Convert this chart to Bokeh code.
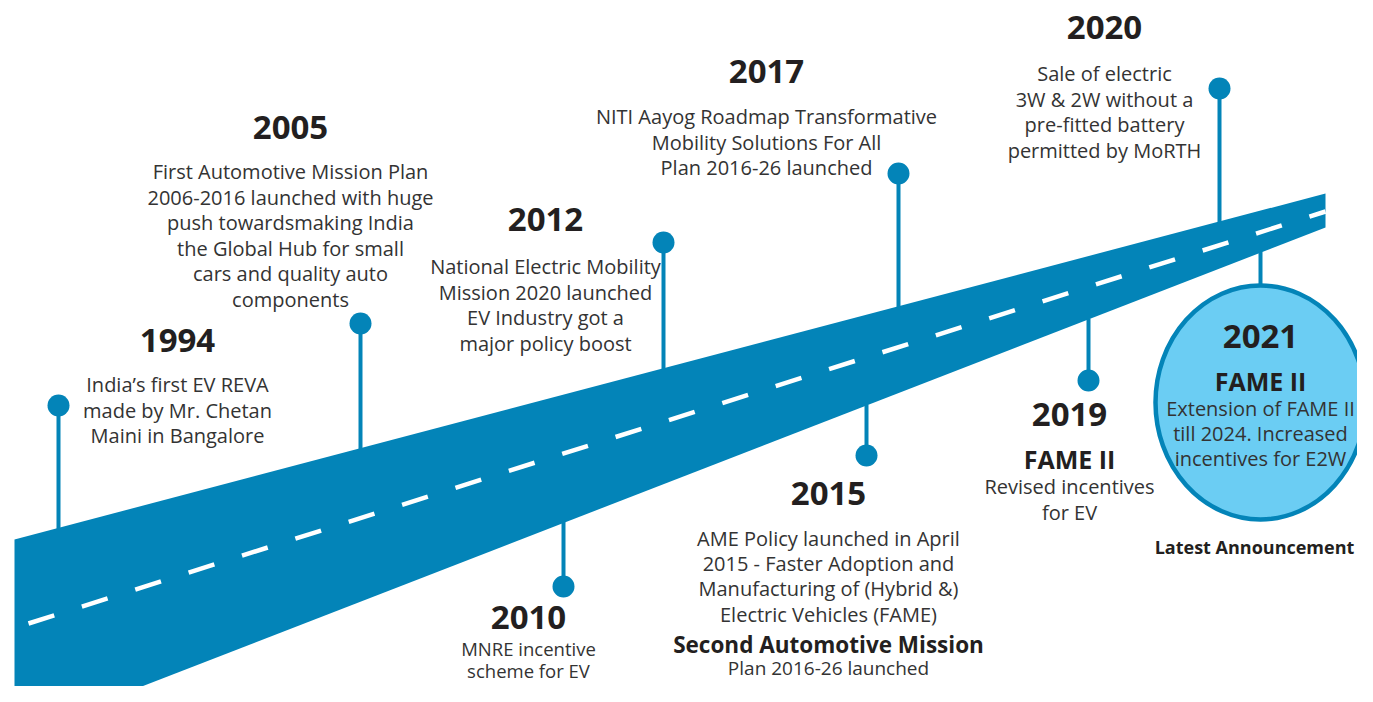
from bokeh.plotting import figure
from bokeh.models import Range1d
from bokeh.core.properties import value
from bokeh.embed import file_html
from bokeh.resources import INLINE

# ---------------- data ----------------
years = ["1994", "2005", "2012", "2017", "2020", "2010", "2015", "2019", "2021"]
subtitles = ["", "", "", "", "", "", "", "FAME II", "FAME II"]
descriptions = [
    ["India\u2019s first EV REVA", "made by Mr. Chetan", "Maini in Bangalore"],
    ["First Automotive Mission Plan", "2006-2016 launched with huge", "push towardsmaking India",
     "the Global Hub for small", "cars and quality auto", "components"],
    ["National Electric Mobility", "Mission 2020 launched", "EV Industry got a", "major policy boost"],
    ["NITI Aayog Roadmap Transformative", "Mobility Solutions For All", "Plan 2016-26 launched"],
    ["Sale of electric", "3W & 2W without a", "pre-fitted battery", "permitted by MoRTH"],
    ["MNRE incentive", "scheme for EV"],
    ["AME Policy launched in April", "2015 - Faster Adoption and",
     "Manufacturing of (Hybrid &)", "Electric Vehicles (FAME)"],
    ["Revised incentives", "for EV"],
    ["Extension of FAME II", "till 2024. Increased", "incentives for E2W"],
]
extra_title = "Second Automotive Mission"
extra_lines = ["Plan 2016-26 launched"]
footer_label = "Latest Announcement"

# ---------------- layout (pixel-like coordinates) ----------------
side = ["up", "up", "up", "up", "up", "down", "down", "down", "big"]
stem_x = [58, 360, 663, 898, 1219, 563, 866, 1088, 1260]
dot_y = [405, 323, 242, 173, 88, 586, 455, 380, None]
text_x = [177, 290, 545, 766, 1104, 528, 828, 1069, 1260]
year_y = [340, 127, 219, 71, 27, 617, 493, 414, 336]
sub_y = [None, None, None, None, None, None, None, 458, 380]
desc_y0 = [384, 171, 266, 116, 73, 648, 538, 486, 408]
desc_step = [25.6, 25.6, 25.6, 25.6, 25.6, 21.5, 25.2, 25.6, 25.0]
desc_size = ["20px"] * 5 + ["18.5px"] + ["20px"] * 3

ROAD = "#0384B8"
LIGHT = "#6BCDF3"
TXT = "#333333"
DARK = "#231F20"
FONT = "Open Sans"

# road geometry
road_top = ((14, 539), (1325, 193))
road_bot = ((100, 702), (1325, 227))


def top_y(x):
    (x0, y0), (x1, y1) = road_top
    return y0 + (y1 - y0) * (x - x0) / (x1 - x0)


def bot_y(x):
    (x0, y0), (x1, y1) = road_bot
    return y0 + (y1 - y0) * (x - x0) / (x1 - x0)


def bot_x(y):
    (x0, y0), (x1, y1) = road_bot
    return x0 + (x1 - x0) * (y - y0) / (y1 - y0)


p = figure(width=1357, height=686, x_range=Range1d(0, 1357), y_range=Range1d(686, 0),
           output_backend="svg", toolbar_location=None, min_border=0)
p.axis.visible = False
p.grid.visible = False
p.outline_line_color = None
p.background_fill_color = "white"

# road polygon
p.patch([14, 1325, 1325, bot_x(720), 14],
        [539, 193, 227, 720, 720], fill_color=ROAD, line_color=None)

# dashed centre line
p.line([28, 1325], [623, 211], line_color="white", line_width=4.5, line_dash="27 29")

# stems and dots
for i in range(len(years)):
    x = stem_x[i]
    if side[i] == "up":
        p.line([x, x], [dot_y[i], top_y(x) + 1], line_color=ROAD, line_width=4)
        p.scatter([x], [dot_y[i]], size=22, fill_color=ROAD, line_color=None)
    elif side[i] == "down":
        p.line([x, x], [bot_y(x) - 1, dot_y[i]], line_color=ROAD, line_width=4)
        p.scatter([x], [dot_y[i]], size=22, fill_color=ROAD, line_color=None)
    else:
        p.line([x, x], [bot_y(x) - 1, 290], line_color=ROAD, line_width=4)
        p.ellipse(x=[x], y=[402], width=[210], height=[234], fill_color=LIGHT,
                  line_color=ROAD, line_width=4.5)

# texts
yx, yy, yt = [], [], []
sx, sy, st = [], [], []
for i in range(len(years)):
    yx.append(text_x[i]); yy.append(year_y[i]); yt.append(years[i])
    if subtitles[i]:
        sx.append(text_x[i]); sy.append(sub_y[i]); st.append(subtitles[i])
    n = len(descriptions[i])
    p.text(x=[text_x[i]] * n, y=[desc_y0[i] + j * desc_step[i] for j in range(n)],
           text=descriptions[i], text_font=value(FONT), text_font_size=desc_size[i],
           text_color=TXT, text_align="center", text_baseline="middle")

p.text(x=yx, y=yy, text=yt, text_font=value(FONT), text_font_style="bold",
       text_font_size="33px", text_color=DARK, text_align="center", text_baseline="middle")
p.text(x=sx, y=sy, text=st, text_font=value(FONT), text_font_style="bold",
       text_font_size="25px", text_color=DARK, text_align="center", text_baseline="middle")

# 2015 extra block
p.text(x=[828], y=[644], text=[extra_title], text_font=value(FONT), text_font_style="bold",
       text_font_size="22.5px", text_color=DARK, text_align="center", text_baseline="middle")
p.text(x=[828] * len(extra_lines), y=[667 + j * 24 for j in range(len(extra_lines))],
       text=extra_lines, text_font=value(FONT),
       text_font_size="19px", text_color=TXT, text_align="center", text_baseline="middle")

p.text(x=[1254], y=[546], text=[footer_label], text_font=value(FONT), text_font_style="bold",
       text_font_size="18px", text_color=DARK, text_align="center", text_baseline="middle")

open("out.html", "w").write(file_html(p, INLINE))
